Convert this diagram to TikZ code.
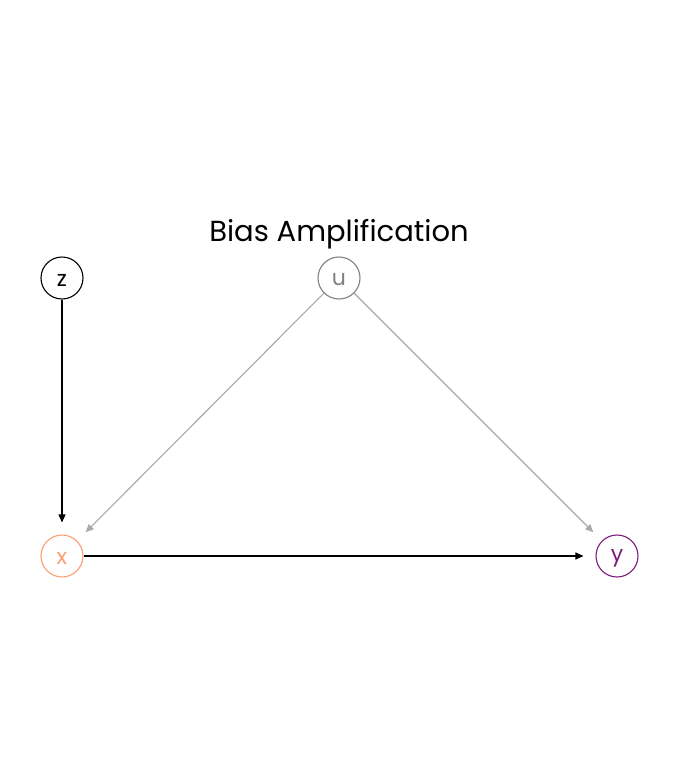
\documentclass[tikz,border=0pt]{standalone}
\usepackage{fontspec}
\setmainfont{Poppins}
\usetikzlibrary{arrows.meta}
\definecolor{xcol}{HTML}{F8A070}
\definecolor{ycol}{HTML}{7A1B78}
\definecolor{ucol}{HTML}{808080}
\definecolor{acol}{HTML}{AAAAAA}
\begin{document}
\begin{tikzpicture}[x=1pt,y=-1pt,
  vnode/.style={circle,draw,line width=1.1pt,minimum size=42pt,inner sep=0pt,font=\fontsize{22}{22}\selectfont},
  lbl/.style={font=\fontsize{22}{22}\selectfont,inner sep=0pt},
  edge/.style={-{Triangle[length=8pt,width=7pt]},line width=1.1pt,shorten >=12pt}]
\useasboundingbox (0,0) rectangle (672,768);
\node[font=\fontsize{29}{29}\selectfont] (title) at (339,234) {Bias Amplification};
\node[vnode] (z) at (62,278) {};
\node[vnode,draw=ucol] (u) at (339,278) {};
\node[vnode,draw=xcol] (x) at (62,556) {};
\node[vnode,draw=ycol] (y) at (617,556) {};
\node[lbl] (zl) at (62,280) {z};
\node[lbl,text=ucol] (ul) at (339,280) {u};
\node[lbl,text=xcol] (xl) at (62,558) {x};
\node[lbl,text=ycol] (yl) at (617,558) {y};
\draw[edge] (z) -- (x);
\draw[edge] (x) -- (y);
\draw[edge,draw=acol,fill=acol] (u) -- (x);
\draw[edge,draw=acol,fill=acol] (u) -- (y);
\end{tikzpicture}
\end{document}
